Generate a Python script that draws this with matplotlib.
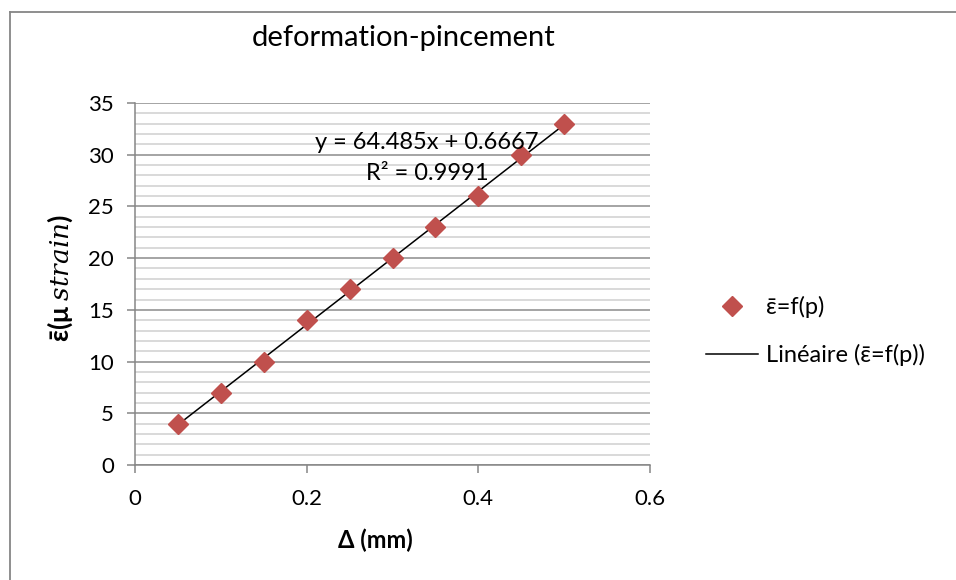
import matplotlib
matplotlib.use("Agg")
import matplotlib.pyplot as plt
import numpy as np
from matplotlib.lines import Line2D

plt.rcParams['font.family'] = ['Lato', 'DejaVu Sans']
plt.rcParams['mathtext.fontset'] = 'dejavuserif'

# Data
delta_mm = [0.05, 0.10, 0.15, 0.20, 0.25, 0.30, 0.35, 0.40, 0.45, 0.50]
strain = [4, 7, 10, 14, 17, 20, 23, 26, 30, 33]
x_ticks = [0, 0.2, 0.4, 0.6]
y_ticks = [0, 5, 10, 15, 20, 25, 30, 35]
title = "deformation-pincement"
xlabel = "Δ (mm)"
ylabel = "ε\u0304(μ $\\mathit{strain}$)"
series_label = "ε\u0304=f(p)"
trend_label = "Linéaire (ε\u0304=f(p))"

x = np.array(delta_mm)
y = np.array(strain)
slope, intercept = np.polyfit(x, y, 1)
pred = slope * x + intercept
r2 = 1 - np.sum((y - pred) ** 2) / np.sum((y - y.mean()) ** 2)

fig = plt.figure(figsize=(9.56, 5.80), dpi=100)
W, H = 956, 580
ax = fig.add_axes([135 / W, 1 - 465 / H, (650 - 135) / W, (465 - 103) / H])

grid_major = '#8c8c8c'
grid_minor = '#d0d0d0'
ax.set_xlim(0, 0.6)
ax.set_ylim(0, 35)
ax.set_yticks(y_ticks)
ax.set_yticks(np.arange(0, 36, 1), minor=True)
ax.set_xticks(x_ticks)
ax.set_xticklabels(['0', '0.2', '0.4', '0.6'])
ax.grid(axis='y', which='minor', color=grid_minor, linewidth=1.1)
ax.grid(axis='y', which='major', color=grid_major, linewidth=1.1)
ax.set_axisbelow(True)
for s in ['top', 'right']:
    ax.spines[s].set_visible(False)
for s in ['left', 'bottom']:
    ax.spines[s].set_color('#868686')
    ax.spines[s].set_linewidth(1.1)
ax.tick_params(axis='both', which='major', direction='out', length=6,
               width=1.1, color='#868686', labelsize=16, labelcolor='black')
ax.tick_params(axis='x', pad=11)
ax.tick_params(axis='y', pad=9)
ax.tick_params(axis='y', which='minor', length=0)

xs = np.array([x.min(), x.max()])
ax.plot(xs, slope * xs + intercept, color='black', linewidth=1.1, zorder=3)
ax.plot(x, y, linestyle='none', marker='D', markersize=10.5, color='#C0504D',
        markeredgecolor='#C0504D', zorder=4)

ax.text(0.340, 31.2, f"y = {slope:.3f}x + {intercept:.4f}", ha='center', va='center',
        fontsize=17, zorder=5)
ax.text(0.340, 28.2, f"R² = {r2:.4f}", ha='center', va='center', fontsize=17, zorder=5)

fig.text(404 / W, 1 - 38 / H, title, ha='center', va='center', fontsize=21)
fig.text(375 / W, 1 - 540 / H, xlabel, ha='center', va='center', fontsize=17,
         fontweight='bold')
fig.text(60 / W, 1 - 278 / H, ylabel, ha='center', va='center', fontsize=19,
         fontweight='bold', rotation=90)

handles = [Line2D([], [], linestyle='none', marker='D', markersize=10.5, color='#C0504D'),
           Line2D([], [], color='black', linewidth=1.1)]
fig.legend(handles, [series_label, trend_label], loc='center left',
           bbox_to_anchor=(706 / W, 1 - 331 / H), frameon=False, fontsize=17,
           handlelength=2.2, handletextpad=0.35, labelspacing=1.1,
           borderpad=0, borderaxespad=0)

# outer chart border (top and left visible)
fig.add_artist(Line2D([9.5 / W, 9.5 / W], [0, 1 - 11.5 / H], transform=fig.transFigure,
                      color='#868686', linewidth=1.3))
fig.add_artist(Line2D([9.5 / W, 1], [1 - 11.5 / H, 1 - 11.5 / H], transform=fig.transFigure,
                      color='#868686', linewidth=1.3))

fig.savefig('out.png', dpi=100)
